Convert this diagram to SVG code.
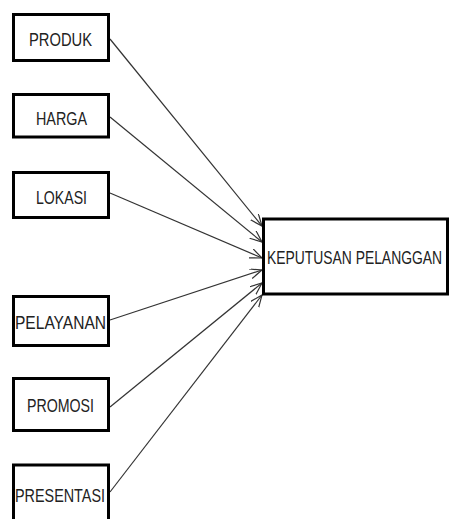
<svg xmlns="http://www.w3.org/2000/svg" width="449" height="519" viewBox="0 0 449 519">
<style>
.box{fill:#fff;stroke:#000;stroke-width:3}
.lbl{font-family:"Liberation Sans",Arial,sans-serif;font-size:19px;fill:#222}
.con{stroke:#333;stroke-width:1.2;fill:none;marker-end:url(#arr)}
</style>
<defs>
<marker id="arr" markerUnits="userSpaceOnUse" markerWidth="14" markerHeight="12" refX="12" refY="5" orient="auto">
<path d="M0,0 L12,5 L0,10" fill="none" stroke="#333" stroke-width="1.2"/>
</marker>
</defs>
<rect width="449" height="519" fill="#fff"/>
<g id="connectors">
<line class="con" x1="110" y1="39" x2="262" y2="226"/>
<line class="con" x1="110" y1="117" x2="262" y2="242"/>
<line class="con" x1="110" y1="193" x2="262" y2="258"/>
<line class="con" x1="110" y1="320" x2="262" y2="270"/>
<line class="con" x1="110" y1="407" x2="262" y2="283"/>
<line class="con" x1="110" y1="492" x2="262" y2="295"/>
</g>
<g id="produk"><rect class="box" x="13.5" y="14.5" width="95" height="46"/><text class="lbl" x="29" y="45.5" textLength="63" lengthAdjust="spacingAndGlyphs">PRODUK</text></g>
<g id="harga"><rect class="box" x="13.5" y="94.5" width="95" height="42.5"/><text class="lbl" x="36" y="125" textLength="51" lengthAdjust="spacingAndGlyphs">HARGA</text></g>
<g id="lokasi"><rect class="box" x="13.5" y="172.5" width="95" height="45"/><text class="lbl" x="36" y="204" textLength="51" lengthAdjust="spacingAndGlyphs">LOKASI</text></g>
<g id="pelayanan"><rect class="box" x="13.5" y="296.5" width="95" height="49"/><text class="lbl" x="15" y="329" textLength="91" lengthAdjust="spacingAndGlyphs">PELAYANAN</text></g>
<g id="promosi"><rect class="box" x="13.5" y="378.5" width="95" height="52"/><text class="lbl" x="27" y="412" textLength="67" lengthAdjust="spacingAndGlyphs">PROMOSI</text></g>
<g id="presentasi"><rect class="box" x="13.5" y="465" width="95" height="70"/><text class="lbl" x="15" y="502" textLength="90" lengthAdjust="spacingAndGlyphs">PRESENTASI</text></g>
<g id="keputusan"><rect class="box" x="263.5" y="219" width="184" height="75"/><text class="lbl" x="267" y="264" textLength="175" lengthAdjust="spacingAndGlyphs">KEPUTUSAN PELANGGAN</text></g>
</svg>
